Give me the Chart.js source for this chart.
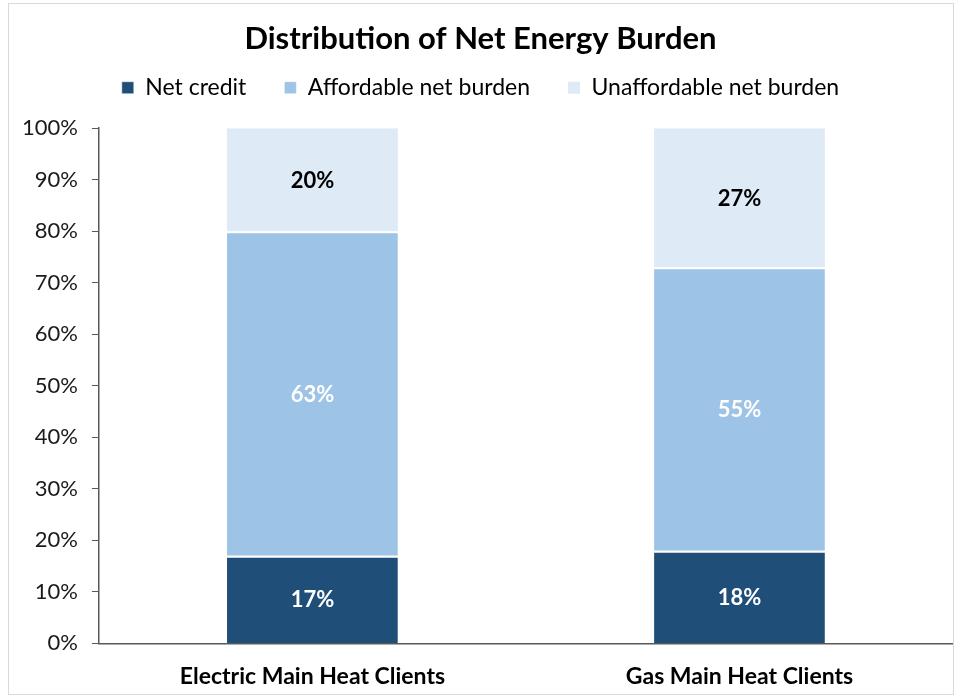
<!DOCTYPE html>
<html>
<head>
<meta charset="utf-8">
<script src="https://cdn.jsdelivr.net/npm/chart.js@4"></script>
<style>
  html, body { margin: 0; padding: 0; background: #fff; }
  #wrap { position: absolute; left: 8px; top: 3px; width: 946px; height: 692px; border: 1px solid #d9d9d9; box-sizing: border-box; }
  #chart { position: absolute; left: 0; top: 0; }
</style>
</head>
<body>
<div id="wrap"><canvas id="chart" width="944" height="690"></canvas></div>
<script>
// values
var categories = ['Electric Main Heat Clients', 'Gas Main Heat Clients'];
var netCredit = [17, 18];
var affordable = [63, 55];
var unaffordable = [20, 27];
var yTicks = [0, 10, 20, 30, 40, 50, 60, 70, 80, 90, 100];

var FONT = 'Lato, "Open Sans", sans-serif';

// draws the % label in the middle of each segment
var segmentLabels = {
  id: 'segmentLabels',
  afterDatasetsDraw: function(chart){
    var ctx = chart.ctx;
    ctx.save();
    ctx.font = 'bold 22px ' + FONT;
    ctx.textAlign = 'center';
    ctx.textBaseline = 'middle';
    chart.data.datasets.forEach(function(ds, i){
      var meta = chart.getDatasetMeta(i);
      meta.data.forEach(function(bar, j){
        var mid = (bar.y + bar.base) / 2;
        ctx.fillStyle = ds.labelColor;
        ctx.fillText(ds.data[j] + '%', bar.x, mid + 1);
      });
    });
    ctx.restore();
  }
};

// extra room under the legend
var legendGap = {
  id: 'legendGap',
  beforeInit: function(chart){
    var fit = chart.legend.fit;
    chart.legend.fit = function(){
      fit.bind(chart.legend)();
      this.height += 19;
    };
  }
};

var ctx = document.getElementById('chart').getContext('2d');
var myChart = new Chart(ctx, {
  type: 'bar',
  data: {
    labels: categories,
    datasets: [
      { label: 'Net credit', data: netCredit, backgroundColor: '#1F4E79', labelColor: '#ffffff',
        borderColor: '#ffffff', borderWidth: {top: 2, left: 0, right: 0, bottom: 0}, borderSkipped: false },
      { label: 'Affordable net burden', data: affordable, backgroundColor: '#9DC3E6', labelColor: '#ffffff',
        borderColor: '#ffffff', borderWidth: {top: 2, left: 0, right: 0, bottom: 0}, borderSkipped: false },
      { label: 'Unaffordable net burden', data: unaffordable, backgroundColor: '#DEEBF7', labelColor: '#000000',
        borderWidth: 0 }
    ]
  },
  options: {
    responsive: false,
    animation: false,
    devicePixelRatio: 1,
    layout: { padding: { left: -1, right: 0, top: 6, bottom: -15 } },
    datasets: { bar: { categoryPercentage: 1, barPercentage: 0.4 } },
    scales: {
      x: {
        stacked: true,
        grid: { display: false, drawTicks: false },
        border: { display: true, color: '#595959', width: 1.5 },
        ticks: { color: '#000', padding: 19, font: { family: FONT, size: 23, weight: 'bold' } }
      },
      y: {
        stacked: true,
        min: 0,
        max: 100,
        afterBuildTicks: function(axis){
          axis.ticks = yTicks.map(function(v){ return { value: v }; });
        },
        grid: { drawOnChartArea: false, drawTicks: true, tickLength: 7, color: '#595959' },
        border: { display: true, color: '#595959', width: 1.5 },
        ticks: {
          color: '#1a1a1a', padding: 14, font: { family: FONT, size: 22 },
          callback: function(value){ return value + '%'; }
        }
      }
    },
    plugins: {
      title: {
        display: true,
        text: 'Distribution of Net Energy Burden',
        color: '#000',
        font: { family: FONT, size: 31, weight: 'bold' },
        padding: { top: 10, bottom: -19 }
      },
      legend: {
        display: true,
        labels: {
          color: '#000',
          boxWidth: 12,
          boxHeight: 12,
          padding: 38,
          font: { family: FONT, size: 23 }
        }
      },
      tooltip: { enabled: false }
    }
  },
  plugins: [segmentLabels, legendGap]
});
</script>
</body>
</html>
